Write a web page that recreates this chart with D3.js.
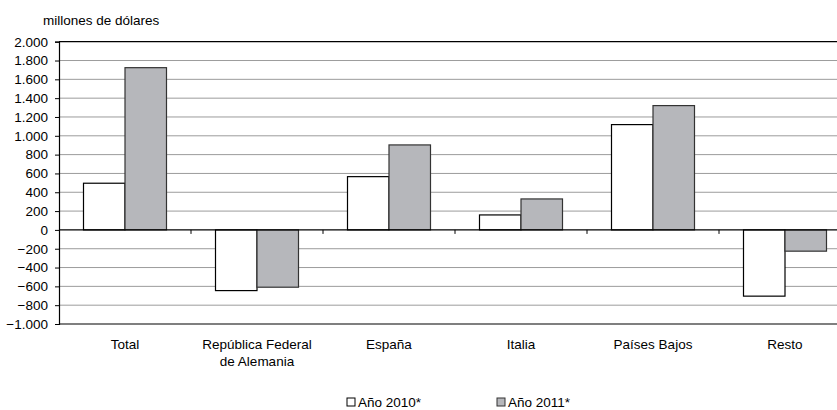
<!DOCTYPE html>
<html><head><meta charset="utf-8">
<script src="https://cdn.jsdelivr.net/npm/d3@7"></script>
<style>body{margin:0;background:#fff;overflow:hidden} text{font-family:"Liberation Sans",Arial,sans-serif;fill:#000}</style>
</head><body><svg id="c" width="837" height="410"></svg>
<script>
const categories = ["Total", "República Federal\nde Alemania", "España", "Italia", "Países Bajos", "Resto"];
const seriesNames = ["Año 2010*", "Año 2011*"];
const values2010 = [496, -645, 566, 159, 1119, -704];
const values2011 = [1724, -609, 903, 329, 1321, -226];
const yTicks = [-1000, -800, -600, -400, -200, 0, 200, 400, 600, 800, 1000, 1200, 1400, 1600, 1800, 2000];
const yLabel = "millones de dólares";
const seriesFill = ["#ffffff", "#b6b7bb"];
const seriesStroke = ["#000000", "#333333"];

(function() {
const svg = d3.select("#c");
const pL = 59, pR = 851, pT = 41.7, pB = 324;
const FS = 13.5;
const fmt = d3.formatLocale({decimal: ",", thousands: ".", grouping: [3], currency: ["", ""]}).format(",d");

const x0 = d3.scaleBand().domain(categories).range([pL, pR]);
const x1 = d3.scaleBand().domain(seriesNames).range([24.5, 107.5]);
const y = d3.scaleLinear().domain([-1000, 2000]).range([pB, pT]);

// gridlines
svg.append("g").selectAll("line").data(yTicks.filter(d => d !== 0 && d !== 2000 && d !== -1000)).join("line")
  .attr("x1", pL).attr("x2", pR).attr("y1", d => y(d)).attr("y2", d => y(d))
  .attr("stroke", "#9c9c9c").attr("stroke-width", 1);

// top and bottom borders
svg.append("line").attr("x1", pL).attr("x2", pR).attr("y1", y(2000)).attr("y2", y(2000)).attr("stroke", "#000").attr("stroke-width", 1.2);
svg.append("line").attr("x1", pL).attr("x2", pR).attr("y1", y(-1000)).attr("y2", y(-1000)).attr("stroke", "#000").attr("stroke-width", 1.2);

// y axis
const yAxis = d3.axisLeft(y).tickValues(yTicks).tickFormat(fmt).tickSize(4).tickPadding(7);
const gy = svg.append("g").attr("transform", `translate(${pL},0)`).call(yAxis);
gy.select(".domain").attr("stroke", "#000").attr("stroke-width", 1.2);
gy.selectAll(".tick line").attr("stroke", "#000");
gy.selectAll(".tick text").attr("font-size", FS).attr("font-family", '"Liberation Sans",Arial,sans-serif').attr("fill", "#000");

// bars
const data = categories.map((c, i) => [
  {cat: c, s: seriesNames[0], v: values2010[i], k: 0},
  {cat: c, s: seriesNames[1], v: values2011[i], k: 1}
]).flat();
svg.append("g").selectAll("rect").data(data).join("rect")
  .attr("x", d => x0(d.cat) + x1(d.s))
  .attr("width", x1.bandwidth())
  .attr("y", d => y(Math.max(0, d.v)))
  .attr("height", d => Math.abs(y(d.v) - y(0)))
  .attr("fill", d => seriesFill[d.k])
  .attr("stroke", d => seriesStroke[d.k])
  .attr("stroke-width", 1.2);

// zero line with category ticks
svg.append("line").attr("x1", pL).attr("x2", pR).attr("y1", y(0)).attr("y2", y(0)).attr("stroke", "#000").attr("stroke-width", 1.2);
svg.append("g").selectAll("line").data(categories.slice(1)).join("line")
  .attr("x1", d => x0(d)).attr("x2", d => x0(d)).attr("y1", y(0)).attr("y2", y(0) + 4)
  .attr("stroke", "#000").attr("stroke-width", 1);

// category labels
const lab = svg.append("g").selectAll("text").data(categories).join("text")
  .attr("x", d => x0(d) + x0.bandwidth() / 2).attr("y", 349)
  .attr("text-anchor", "middle").attr("font-size", FS);
lab.selectAll("tspan").data(d => d.split("\n")).join("tspan")
  .attr("x", function() { return d3.select(this.parentNode).attr("x"); })
  .attr("dy", (d, i) => i === 0 ? 0 : 16.5).text(d => d);

// y label
svg.append("text").attr("x", 43).attr("y", 25).attr("font-size", FS).text(yLabel);

// legend
const legX = [347, 497];
const leg = svg.append("g").selectAll("g").data(seriesNames).join("g")
  .attr("transform", (d, i) => `translate(${legX[i]},398)`);
leg.append("rect").attr("width", 8).attr("height", 8)
  .attr("fill", (d, i) => seriesFill[i]).attr("stroke", (d, i) => i ? "#333" : "#000").attr("stroke-width", 1);
leg.append("text").attr("x", 11).attr("y", 8.5).attr("font-size", FS).text(d => d);
})();
</script></body></html>
